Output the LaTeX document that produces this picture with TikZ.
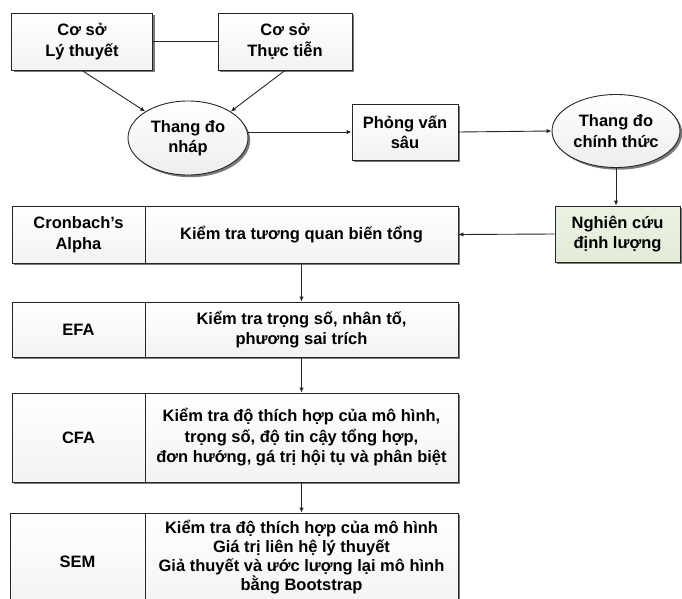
\documentclass[tikz,border=0pt]{standalone}
\usepackage{fontspec}
\setmainfont{Liberation Sans}
\usetikzlibrary{arrows.meta,shapes.geometric,shadows,calc}
\definecolor{greenfill}{HTML}{E2ECD8}
\tikzset{
  base/.style={draw=black!85, line width=0.9pt, font=\bfseries\fontsize{16.5}{20.5}\selectfont, align=center, inner sep=2pt,
    drop shadow={shadow xshift=2.2pt, shadow yshift=-2.2pt, opacity=0.65, fill=black!80}},
  rbox/.style={base, rectangle, fill=white, top color=white, bottom color=black!5},
  gbox/.style={base, rectangle, top color=greenfill!70, bottom color=greenfill},
  ell/.style={base, ellipse, top color=white, bottom color=black!7},
  conn/.style={line width=0.9pt, black!85},
  arr/.style={conn, -{Latex[length=5pt,width=4.5pt]}}
}
\begin{document}
\begin{tikzpicture}[x=1pt,y=-1pt]
\useasboundingbox (0,0) rectangle (682,599);
\begin{scope}
\clip (0,0) rectangle (682,599);
\node[rbox, minimum width=141pt, minimum height=57pt] (lt) at (82,41.5) {Cơ sở\\Lý thuyết};
\node[rbox, minimum width=134pt, minimum height=57pt] (tt) at (285,41.5) {Cơ sở\\Thực tiễn};
\node[ell, minimum width=120pt, minimum height=74pt, inner sep=0pt] (nhap) at (188,138) {Thang đo\\nháp};
\node[rbox, minimum width=106pt, minimum height=56pt] (pvs) at (405,132) {Phỏng vấn\\sâu};
\node[ell, minimum width=128pt, minimum height=73pt, inner sep=0pt] (chinh) at (616,131) {Thang đo\\chính thức};
\node[gbox, minimum width=125pt, minimum height=56pt] (nc) at (617.5,234) {Nghiên cứu\\định lượng};

\node[rbox, minimum width=133pt, minimum height=57pt] (cr) at (78.5,234.5) {Cronbach’s\\Alpha};
\node[rbox, minimum width=313pt, minimum height=57pt] (kt1) at (301.5,234.5) {Kiểm tra tương quan biến tổng};
\node[rbox, minimum width=133pt, minimum height=55pt] (efa) at (78.5,329.5) {EFA};
\node[rbox, minimum width=313pt, minimum height=55pt] (kt2) at (301.5,329.5) {Kiểm tra trọng số, nhân tố,\\phương sai trích};
\node[rbox, minimum width=133pt, minimum height=89pt] (cfa) at (78.5,437.5) {CFA};
\node[rbox, minimum width=313pt, minimum height=89pt] (kt3) at (301.5,437.5) {Kiểm tra độ thích hợp của mô hình,\\trọng số, độ tin cậy tổng hợp,\\đơn hướng, gá trị hội tụ và phân biệt};
\node[rbox, minimum width=135pt, minimum height=97pt] (sem) at (77.5,561.5) {SEM};
\node[rbox, minimum width=313pt, minimum height=97pt, font=\bfseries\fontsize{16.5}{19}\selectfont] (kt4) at (301.5,561.5) {};
\node[font=\bfseries\fontsize{16.5}{19}\selectfont, align=center, inner sep=0pt] (kt4t) at (301.5,557.5) {Kiểm tra độ thích hợp của mô hình\\Giá trị liên hệ lý thuyết\\Giả thuyết và ước lượng lại mô hình\\bằng Bootstrap};
\end{scope}

\draw[conn] (lt.east) -- (tt.west);
\draw[arr] (lt.south) -- (nhap.north west);
\draw[arr] (tt.south) -- (nhap.north east);
\draw[arr] (pvs.west -| nhap.east) -- (pvs.west);
\draw[arr] (pvs.east) -- (chinh.west);
\draw[arr] (chinh.south) -- (chinh.south |- nc.north);
\draw[arr] (nc.west) -- (kt1.east);
\draw[arr] (kt1.south) -- (kt2.north);
\draw[arr] (kt2.south) -- (kt3.north);
\draw[arr] (kt3.south) -- (kt4.north);
\end{tikzpicture}
\end{document}
